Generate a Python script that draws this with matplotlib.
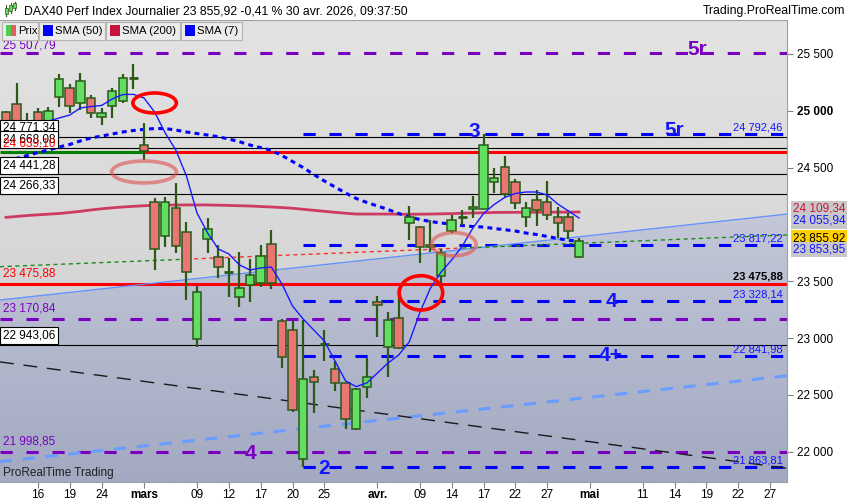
import numpy as np
import matplotlib
matplotlib.use('Agg')
import matplotlib.pyplot as plt
from matplotlib.patches import Rectangle, Ellipse, Polygon
from matplotlib.colors import LinearSegmentedColormap

plt.rcParams['font.family'] = ['Liberation Sans', 'DejaVu Sans']

# daily candles, 11 fevr. -> 30 avr. 2026 (one entry per trading day)
opens = [24991, 25056, 24840, 24986, 24860, 25123, 25197, 25065, 25109, 24947,
         25041, 25088, 25288, 24696, 24200, 23898, 24142, 23936, 22992, 23874,
         23716, 23575, 23364, 23470, 23487, 23825, 23148, 23069, 21934, 22660,
         22948, 22726, 22602, 22198, 22567, 23315, 22922, 23174, 24015, 23974,
         23819, 23549, 23945, 24059, 24133, 24138, 24376, 24502, 24370, 24068,
         24215, 24194, 24062, 24062, 23711]
highs = [24995, 25246, 24977, 25026, 25035, 25323, 25235, 25334, 25138, 25024,
         25200, 25323, 25411, 24894, 24235, 24244, 24361, 24018, 23458, 24054,
         23819, 23702, 23755, 23693, 23819, 23951, 23168, 23150, 23159, 22720,
         23071, 22801, 22608, 22560, 22822, 23370, 23232, 23438, 24162, 23986,
         24039, 23784, 24083, 24127, 24250, 24795, 24493, 24602, 24399, 24194,
         24303, 24382, 24150, 24098, 23878]
lows = [24795, 24795, 24790, 24800, 24820, 25035, 24977, 25006, 24933, 24874,
        24933, 25070, 25188, 24566, 23599, 23804, 23746, 23335, 22922, 23751,
        23526, 23359, 23276, 23320, 23452, 23432, 22740, 22350, 21864, 22339,
        22801, 22535, 22198, 22190, 22476, 23012, 22660, 22901, 23863, 23663,
        23760, 23482, 23922, 23995, 24054, 24135, 24279, 24238, 24138, 23980,
        23989, 24039, 23883, 23869, 23705]
closes = [24848, 24848, 24880, 24860, 24997, 25276, 25041, 25261, 24982, 24984,
          25176, 25285, 25292, 24646, 23781, 24200, 23810, 23584, 23403, 23957,
          23628, 23578, 23438, 23552, 23719, 23487, 22831, 22365, 22638, 22617,
          22950, 22602, 22286, 22549, 22660, 23288, 23159, 22910, 24068, 23799,
          23799, 23746, 24039, 24062, 24150, 24698, 24411, 24265, 24186, 24147,
          24124, 24080, 24010, 23945, 23856]

sma7 = [None] * 4 + [
    24909, 24936, 24962, 25024, 25037, 25046, 25103, 25142, 25144, 25112,
    24989, 24804, 24654, 24426, 24100, 23924, 23784, 23740, 23643, 23599,
    23617, 23625, 23476, 23282, 23168, 23071, 22975, 22799, 22623, 22573,
    22605, 22693, 22781, 22851, 22966, 23225, 23441, 23581, 23687, 23810,
    23968, 24096, 24175, 24237, 24272, 24285, 24285, 24259, 24179, 24118,
    24056]
sma50 = [24566, 24581, 24606, 24632, 24654, 24681, 24703, 24734, 24760, 24777,
         24795, 24813, 24826, 24836, 24843, 24843, 24830, 24813, 24799, 24786,
         24771, 24751, 24727, 24698, 24675, 24652, 24606, 24553, 24500, 24439,
         24382, 24329, 24276, 24228, 24193, 24162, 24131, 24096, 24065, 24043,
         24025, 24012, 24003, 23990, 23981, 23977, 23964, 23953, 23942, 23924,
         23911, 23894, 23876, 23860, 23854]
sma200 = [24062, 24070, 24078, 24084, 24090, 24096, 24105, 24115, 24127, 24137,
          24146, 24153, 24159, 24164, 24168, 24170, 24171, 24171, 24171, 24171,
          24169, 24167, 24164, 24162, 24157, 24153, 24148, 24142, 24133, 24124,
          24115, 24106, 24098, 24091, 24091, 24091, 24091, 24090, 24089, 24090,
          24091, 24093, 24095, 24098, 24100, 24102, 24105, 24106, 24106, 24106,
          24107, 24107, 24108, 24108, 24109]

tick_pos = [3, 6, 9, 13, 18, 21, 24, 27, 30, 35, 39, 42, 45, 48, 51, 55, 60, 63, 66, 69, 72]
tick_lab = ['16', '19', '24', 'mars', '09', '12', '17', '20', '25', 'avr.', '09', '14',
            '17', '22', '27', 'mai', '11', '14', '19', '22', '27']
month_lab = ['mars', 'avr.', 'mai']

# horizontal levels
purple_levels = [25507.79, 23170.84, 21998.85]
wave_start = 28
blue_levels = [24792.46, 23817.22, 23328.14, 22841.98, 21863.81]
blue_labels = ['24 792,46', '23 817,22', '23 328,14', '22 841,98', '21 863,81']
black_levels = [24771.34, 24668.08, 24441.28, 24266.33, 22943.06]
black_labels = ['24 771,34', '24 668,08', '24 441,28', '24 266,33', '22 943,06']
red_level_hi = 24639.10
red_level_lo = 23475.88
green_until = 13

# trend lines (two anchor points each: day index, value)
tl_x = [0, 73]
thin_blue = [23341, 24085]
blue_dash = [21919, 22662]
black_dash = [22783, 21862]
dotted = [23630, 23905]
dotted_red = [17, 43]

# wave marks: text, day index, value, colour
waves = [('3', 44.1, 24815, '#1414ff'), ('5r', 63.0, 24824, '#1414ff'),
         ('5r', 65.1, 25540, '#7a00c0'), ('4', 57.1, 23326, '#1414ff'),
         ('4+', 57.0, 22843, '#1414ff'), ('4', 23.0, 21987, '#7a00c0'),
         ('2', 30.0, 21855, '#1414ff')]

# circles: day index, value, width (days), height (points), colour
circles = [(14.0, 25068, 4.1, 176, '#ff0000', 1.0),
           (13.0, 24461, 6.1, 193, '#e05050', 0.6),
           (42.2, 23825, 4.2, 205, '#e05050', 0.6),
           (39.1, 23398, 4.1, 302, '#ff0000', 1.0)]

fig = plt.figure(figsize=(8.5, 5), dpi=100)
fig.patch.set_facecolor('white')
ax = fig.add_axes([0, 18 / 500, 787 / 850, 462 / 500])
x0, x1 = -0.57, 73.6
y0, y1 = 21734, 25798


def line_at(vals, x):
    k = (vals[1] - vals[0]) / (tl_x[1] - tl_x[0])
    return vals[0] + k * (np.asarray(x) - tl_x[0])


# background: grey above the rising line, bluish below it
grad = np.linspace(0, 1, 256).reshape(-1, 1)
grey = LinearSegmentedColormap.from_list('grey', ['#cbcbcb', '#e3e3e3'])
bluish = LinearSegmentedColormap.from_list('bluish', ['#a2a9c1', '#c4c8d8'])
ax.imshow(grad, extent=[x0, x1, y0, y1], origin='lower', aspect='auto', cmap=grey, zorder=0)
bim = ax.imshow(grad, extent=[x0, x1, y0, 24150], origin='lower', aspect='auto',
                cmap=bluish, zorder=0.1)
clip = Polygon([(x0, y0), (x0, line_at(thin_blue, x0)), (x1, line_at(thin_blue, x1)), (x1, y0)],
               closed=True, transform=ax.transData)
bim.set_clip_path(clip)

# levels
for v in purple_levels:
    ax.axhline(v, color='#7a00c0', lw=2.2, ls=(0, (4, 4.5)), zorder=2)
for v in blue_levels:
    ax.hlines(v, wave_start, x1, color='#0000ff', lw=2.2, linestyles=[(0, (4, 4.5))], zorder=2)
for v in black_levels:
    ax.axhline(v, color='black', lw=0.8, zorder=2)
ax.hlines(red_level_hi, x0, green_until, color='#008000', lw=2.2, zorder=2)
ax.hlines(red_level_hi, green_until, x1, color='#ff0000', lw=2.2, zorder=2)
ax.axhline(red_level_lo, color='#ff0000', lw=2.2, zorder=2)

# trend lines
xx = np.array([x0, x1])
ax.plot(xx, line_at(thin_blue, xx), color='#6090ff', lw=0.9, zorder=2)
ax.plot(xx, line_at(blue_dash, xx), color='#6a9cff', lw=2.2, ls=(0, (4, 3.5)), zorder=2)
ax.plot(xx, line_at(black_dash, xx), color='#1a1a1a', lw=1.0, ls=(0, (10, 7)), zorder=2)
for a, b, col in [(x0, dotted_red[0], '#1f8a1f'), (dotted_red[0], dotted_red[1], '#ff3030'),
                  (dotted_red[1], x1, '#1f8a1f')]:
    seg = np.array([a, b])
    ax.plot(seg, line_at(dotted, seg), color=col, lw=1.0, ls=(0, (3, 2.5)), zorder=2)

# moving averages
xs = np.arange(len(closes))
ax.plot(xs, sma200, color='#cc1f4f', lw=2.0, alpha=0.85, zorder=3)
ax.plot(xs, sma50, color='#0000ff', lw=2.2, ls=(0, (1.6, 1.4)), zorder=3)

# candles
o = np.array(opens, float)
c = np.array(closes, float)
up = c >= o
wick = '#2b5a17'
ax.vlines(xs, lows, highs, color=wick, lw=1.6, zorder=4)
body_lo = np.minimum(o, c)
body_h = np.abs(c - o)
doji = body_h < 12
cols = np.where(up, '#62de62', '#ea7575')
ax.bar(xs[~doji], body_h[~doji], bottom=body_lo[~doji], width=0.8, color=cols[~doji],
       edgecolor=wick, lw=1.1, zorder=5)
ax.hlines(c[doji], xs[doji] - 0.42, xs[doji] + 0.42, color=wick, lw=2, zorder=5)

sma7_arr = np.array([np.nan if v is None else v for v in sma7], float)
ax.plot(xs, sma7_arr, color='#1a1aff', lw=1.0, zorder=6)

# circles
for cx, cy, w, h, col, al in circles:
    ax.add_patch(Ellipse((cx, cy), w, h, fill=False, ec=col, lw=2.6, alpha=al, zorder=7))

# wave labels
for txt, wx, wy, col in waves:
    ax.text(wx, wy, txt, color=col, fontsize=15, fontweight='bold', ha='center', va='center',
            zorder=8)

yt = ax.get_yaxis_transform()

# left value labels
for v, lab in zip(black_levels, black_labels):
    ax.annotate(lab, xy=(0, v), xycoords=yt, xytext=(2, 2), textcoords='offset points',
                ha='left', va='bottom', fontsize=8.5, color='black', zorder=9,
                bbox=dict(boxstyle='square,pad=0.2', fc='white', ec='black', lw=0.8))
ax.annotate('24 639,10', xy=(0, red_level_hi), xycoords=yt, xytext=(2, 1.5),
            textcoords='offset points', ha='left', va='bottom', fontsize=8.5, color='#ff0000',
            zorder=10)
for v, lab, col, dy in [(25507.79, '25 507,79', '#7a00c0', 1.0),
                        (red_level_lo, '23 475,88', '#ff0000', 3),
                        (23170.84, '23 170,84', '#7a00c0', 3),
                        (21998.85, '21 998,85', '#7a00c0', 3)]:
    ax.annotate(lab, xy=(0, v), xycoords=yt, xytext=(2, dy), textcoords='offset points',
                ha='left', va='bottom', fontsize=8.5, color=col, zorder=9)

# right value labels inside the plot
for v, lab in zip(blue_levels, blue_labels):
    ax.annotate(lab, xy=(1, v), xycoords=yt, xytext=(-3, 1), textcoords='offset points',
                ha='right', va='bottom', fontsize=8, color='#1414ff', zorder=9)
ax.annotate('23 475,88', xy=(1, red_level_lo), xycoords=yt, xytext=(-3, 2),
            textcoords='offset points', ha='right', va='bottom', fontsize=8, color='black',
            fontweight='bold', zorder=9)

ax.text(0.004, 0.012, 'ProRealTime Trading', transform=ax.transAxes, fontsize=8.5,
        color='#202020', zorder=9)

# axes cosmetics
ax.set_xlim(x0, x1)
ax.set_ylim(y0, y1)
ax.spines['left'].set_visible(False)
for s in ['top', 'right', 'bottom']:
    ax.spines[s].set_color('#a0a0a0')
ax.yaxis.tick_right()
yticks = [22000, 22500, 23000, 23500, 24500, 25000, 25500]
ax.set_yticks(yticks)
ax.set_yticklabels([f'{v:,}'.replace(',', ' ') for v in yticks])
for t in ax.get_yticklabels():
    if t.get_text() == '25 000':
        t.set_fontweight('bold')
ax.tick_params(axis='y', direction='out', length=4, color='#808080', pad=3, labelsize=8.5)
ax.set_xticks(tick_pos)
ax.set_xticklabels(tick_lab)
for t in ax.get_xticklabels():
    if t.get_text() in month_lab:
        t.set_fontweight('bold')
ax.tick_params(axis='x', direction='out', length=4, color='#808080', pad=1, labelsize=8.5)

# last value boxes on the price scale
for v, lab, fc, col, dy in [(24109.34, '24 109,34', '#c8c8c8', '#c8143c', 2.2),
                            (24055.94, '24 055,94', '#c8c8c8', '#1414ff', -2.0),
                            (23855.92, '23 855,92', '#ffd000', 'black', 2.0),
                            (23853.95, '23 853,95', '#c8c8c8', '#1414ff', -6.0)]:
    ax.annotate(lab, xy=(1, v), xycoords=yt, xytext=(4, dy), textcoords='offset points',
                ha='left', va='center', fontsize=8.5, color=col, annotation_clip=False,
                zorder=10, bbox=dict(boxstyle='square,pad=0.15', fc=fc, ec='none'))


# title bar and legend (figure pixel coordinates)
def fx(px):
    return px / 850


def fy(py):
    return 1 - py / 500


fig.add_artist(Rectangle((0, fy(20)), 1, 20 / 500, transform=fig.transFigure,
                         fc='white', ec='none', zorder=1))
for i, (hi, lo, bt, bb) in enumerate([(5, 16, 8, 14), (3, 13, 5, 11), (2, 10, 3, 8)]):
    px = 6 + i * 4.5
    fig.add_artist(plt.Line2D([fx(px), fx(px)], [fy(lo), fy(hi)], transform=fig.transFigure,
                              color=wick, lw=0.8, zorder=2))
    fig.add_artist(Rectangle((fx(px - 1.5), fy(bb)), 3 / 850, (bb - bt) / 500,
                             transform=fig.transFigure, fc='#62de62', ec=wick, lw=0.5, zorder=3))
fig.text(fx(24), fy(11), 'DAX40 Perf Index Journalier 23 855,92 -0,41 % 30 avr. 2026, 09:37:50',
         fontsize=8.8, va='center', ha='left')
fig.text(fx(845), fy(11), 'Trading.ProRealTime.com', fontsize=8.8, va='center', ha='right')

legend = [('Prix', 2, 36, None), ('SMA (50)', 39, 66, '#0000ff'),
          ('SMA (200)', 106, 74, '#c8143c'), ('SMA (7)', 181, 61, '#0000ff')]
for lab, lx, lw_, col in legend:
    fig.add_artist(Rectangle((fx(lx), fy(40)), lw_ / 850, 18 / 500, transform=fig.transFigure,
                             fc='#ececec', ec='#b4b4b4', lw=0.8, zorder=5))
    if col is None:
        fig.add_artist(Rectangle((fx(lx + 4), fy(36)), 5 / 850, 11 / 500, transform=fig.transFigure,
                                 fc='#4ccc4c', ec='none', zorder=6))
        fig.add_artist(Rectangle((fx(lx + 9), fy(36)), 5 / 850, 11 / 500, transform=fig.transFigure,
                                 fc='#e06060', ec='none', zorder=6))
    else:
        fig.add_artist(Rectangle((fx(lx + 4), fy(36)), 10 / 850, 11 / 500, transform=fig.transFigure,
                                 fc=col, ec='none', zorder=6))
    fig.text(fx(lx + 16), fy(31), lab, fontsize=8.2, va='center', ha='left', zorder=7)

fig.savefig('out.png', dpi=100)
